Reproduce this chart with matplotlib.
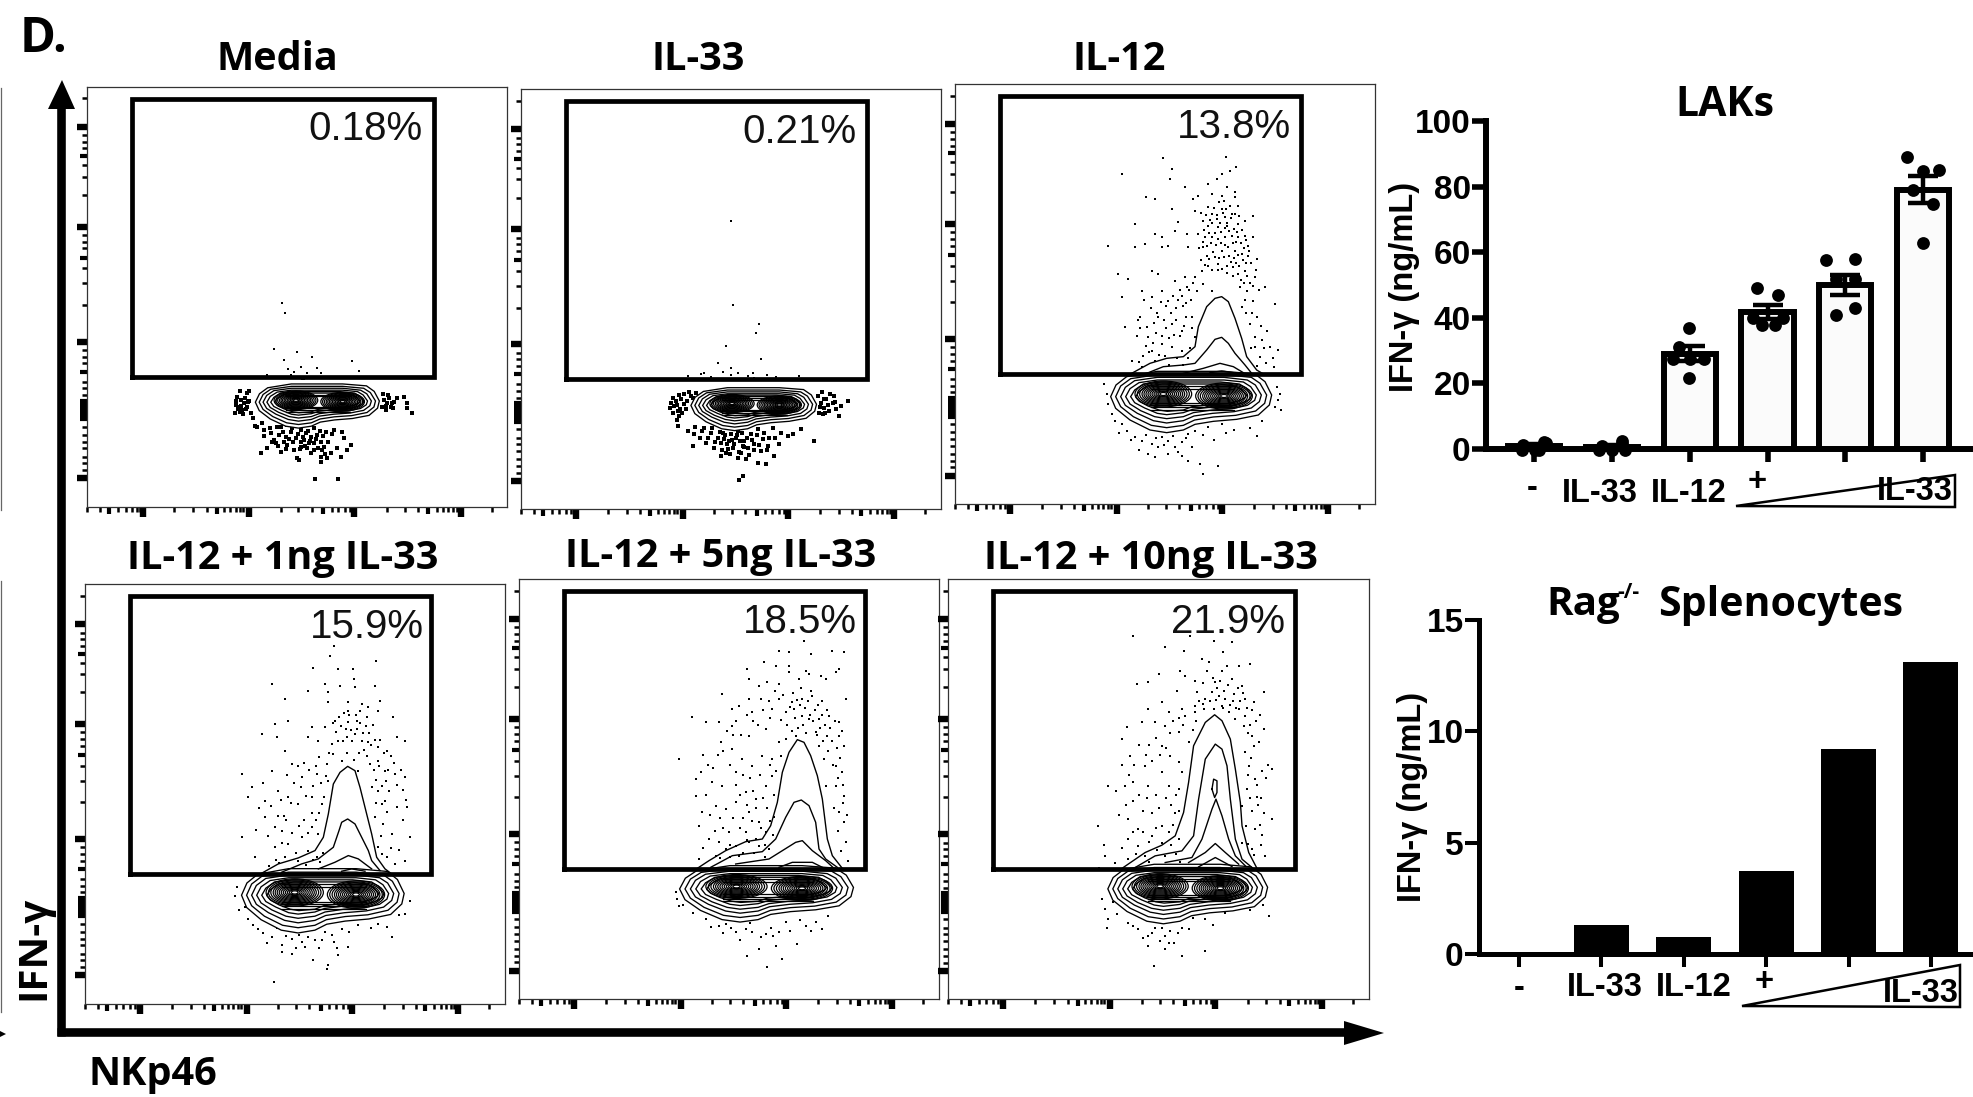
import matplotlib
matplotlib.use("Agg")
import matplotlib.pyplot as plt
from matplotlib.patches import Ellipse, Polygon

W, H = 1973, 1097
TITLE_FONT = "Open Sans"
BAR_FONT = "Liberation Sans"
FLOW_FONT = "Liberation Sans"

# flow panels, channel units are 0-1260 on both axes
panel_names = ["Media", "IL-33", "IL-12",
               "IL-12 + 1ng IL-33", "IL-12 + 5ng IL-33", "IL-12 + 10ng IL-33"]
panel_percent = ["0.18%", "0.21%", "13.8%", "15.9%", "18.5%", "21.9%"]
percent_x = [1005, 1005, 1008, 1017, 1013, 1010]
gate_x = [134, 1039]
gate_y = [390, 1224]

x_major = [166, 485, 800, 1120]
x_medium = [66, 388, 708, 1021]
x_minor = [0, 38, 93, 115, 135, 150, 158, 260, 318, 358, 410, 428, 445, 458, 468,
           580, 633, 673, 733, 753, 773, 788, 898, 953, 993, 1048, 1068, 1083, 1098, 1108, 1213]
y_major = [85, 495, 840, 1140]
y_medium = [262, 270, 278, 286, 294, 302, 310, 318, 405, 747, 1052]
y_minor = [110, 130, 150, 175, 195, 215, 240, 335, 355, 375, 430, 450, 470,
           605, 670, 715, 775, 795, 815, 935, 990, 1025, 1075, 1095, 1115, 1225]

# lower population: outlines relative to the blob centre, one panel's shape
ring_a = [(-192, 58), (-224, 33), (-240, -2), (-225, -37), (-182, -72), (-122, -102), (-72, -110), (-22, -102),
          (13, -85), (68, -76), (138, -70), (203, -57), (236, -27), (243, 3), (223, 43), (193, 66), (100, 74), (-100, 74)]
ring_b = [(-180, 52), (-210, 30), (-225, -2), (-210, -32), (-172, -62), (-118, -88), (-72, -95), (-22, -88),
          (12, -72), (68, -63), (135, -58), (195, -45), (222, -22), (228, 3), (208, 38), (182, 56), (100, 64), (-100, 64)]
ring_c = [(-168, 46), (-196, 26), (-210, -2), (-196, -28), (-160, -52), (-112, -74), (-72, -81), (-22, -74),
          (10, -60), (66, -52), (130, -47), (182, -36), (206, -17), (212, 3), (194, 33), (170, 48), (100, 56), (-100, 56)]
ring_d = [(-155, 40), (-182, 22), (-195, -2), (-182, -24), (-150, -44), (-108, -62), (-72, -68), (-22, -62),
          (8, -50), (64, -42), (125, -38), (170, -28), (192, -13), (197, 3), (180, 28), (158, 42), (100, 48), (-100, 48)]
ring_e = [(-142, 36), (-168, 18), (-180, -2), (-168, -20), (-138, -36), (-100, -52), (-72, -56), (-22, -50),
          (6, -40), (62, -33), (118, -30), (158, -20), (178, -9), (183, 3), (166, 24), (146, 36), (90, 42), (-90, 42)]
ring_f = [(-130, 30), (-154, 14), (-165, -2), (-154, -16), (-128, -30), (-95, -42), (-70, -46), (-22, -42),
          (4, -32), (60, -26), (112, -23), (146, -14), (164, -5), (168, 3), (152, 20), (134, 30), (85, 36), (-85, 36)]
blob_rings = [ring_a, ring_b, ring_c, ring_d, ring_e, ring_f]

lobe_centres = [(-82, 6), (100, 0)]
lobe_widths = [170, 156, 142, 128, 116, 104, 92, 80, 68, 56, 44, 32, 20]
lobe_heights = [78, 72, 66, 60, 54, 48, 42, 36, 30, 24, 18, 14, 9]
stripe_y = [-20, -27, -34, -41, 22, 30]

# blob centre and scale per panel
blob_cx = [689, 697, 707, 712, 741, 716]
blob_cy = [315, 313, 324, 328, 332, 333]
blob_sx = [0.77, 0.78, 1.0, 1.01, 1.08, 0.99]
blob_sy = [0.72, 0.70, 1.0, 1.05, 0.92, 0.97]

# contours above the blob
upper_il12 = [
    [(530, 392), (585, 422), (635, 437), (685, 442), (720, 472), (730, 532), (755, 592), (780, 617), (800, 622),
     (820, 607), (840, 557), (860, 497), (875, 442), (905, 402), (930, 387)],
    [(575, 392), (625, 412), (685, 417), (720, 422), (755, 462), (780, 494), (800, 500), (820, 482), (840, 452), (870, 417), (890, 392)],
    [(685, 392), (745, 407), (795, 422), (835, 412), (865, 394)],
    [(765, 394), (800, 399), (835, 394)],
]
upper_1ng = [
    [(530, 392), (580, 420), (640, 438), (690, 460), (715, 500), (730, 570), (745, 660), (765, 695), (788, 713),
     (810, 700), (825, 650), (840, 590), (860, 510), (875, 440), (900, 405), (920, 390)],
    [(590, 395), (650, 420), (700, 435), (745, 470), (762, 520), (770, 545), (788, 555), (810, 540), (830, 500), (850, 460), (860, 430), (885, 400)],
    [(700, 405), (750, 425), (790, 445), (820, 435), (860, 405)],
    [(770, 398), (800, 405), (840, 398)],
]
upper_5ng = [
    [(535, 392), (570, 415), (620, 445), (680, 472), (730, 480), (755, 520), (775, 590), (790, 680), (810, 740),
     (835, 778), (855, 770), (875, 730), (895, 670), (910, 600), (925, 480), (940, 430), (970, 392)],
    [(575, 395), (640, 430), (730, 442), (770, 480), (800, 545), (825, 590), (847, 597), (870, 580), (890, 530), (900, 450), (920, 420), (955, 395)],
    [(650, 405), (750, 420), (790, 445), (830, 470), (850, 475), (880, 445), (920, 415), (945, 392)],
    [(780, 395), (820, 410), (880, 410), (910, 395)],
]
upper_10ng = [
    [(520, 392), (590, 440), (640, 462), (680, 490), (705, 560), (720, 650), (735, 760), (770, 830), (798, 853),
     (820, 835), (845, 780), (860, 690), (875, 590), (880, 520), (900, 440), (925, 392)],
    [(560, 395), (620, 430), (700, 445), (735, 490), (750, 600), (770, 720), (800, 765), (820, 750), (835, 700), (845, 600), (860, 480), (880, 420), (910, 395)],
    [(650, 410), (730, 425), (760, 480), (790, 570), (802, 600), (820, 550), (840, 480), (860, 430), (890, 400)],
    [(790, 630), (795, 660), (805, 655), (805, 620), (798, 605), (790, 630)],
    [(720, 410), (770, 440), (800, 467), (830, 440), (870, 405)],
    [(750, 397), (800, 425), (850, 398)],
]
panel_upper = [[], [], upper_il12, upper_1ng, upper_5ng, upper_10ng]

# events outside the contours
dots_media = [(583, 610), (593, 580), (560, 472), (630, 465), (673, 450), (590, 440), (795, 437), (640, 420), (690, 415),
              (620, 405), (815, 407), (660, 400), (700, 400), (610, 395), (450, 330), (460, 320), (470, 310), (455, 300),
              (480, 300), (490, 280), (480, 340), (465, 290), (445, 305), (458, 285), (472, 325), (486, 318), (890, 320),
              (900, 310), (910, 300), (895, 290), (905, 325), (920, 315), (885, 300), (950, 330), (960, 310), (975, 280),
              (960, 295), (510, 240), (530, 230), (550, 220), (560, 200), (575, 215), (590, 195), (610, 225), (625, 205),
              (640, 195), (655, 220), (670, 210), (680, 190), (700, 195), (715, 225), (740, 230), (770, 205), (790, 185),
              (600, 185), (620, 170), (640, 180), (660, 175), (680, 170), (710, 180), (730, 160), (760, 150), (780, 170),
              (540, 175), (520, 160), (580, 165), (630, 145), (700, 150), (640, 230), (580, 240), (680, 235), (600, 245),
              (635, 140), (700, 135), (720, 145), (682, 83), (752, 83), (565, 190), (595, 210), (650, 200), (665, 190),
              (690, 215), (705, 170),
              (447, 318), (452, 292), (462, 302), (467, 278), (476, 293), (483, 313), (443, 282), (497, 267), (503, 243),
              (523, 252), (531, 213), (547, 236), (553, 193), (568, 238), (571, 182), (587, 223), (597, 173), (604, 203),
              (613, 237), (617, 193), (633, 218), (637, 173), (647, 208), (653, 183), (663, 228), (667, 198), (672, 162),
              (687, 203), (693, 177), (697, 226), (708, 213), (712, 158), (723, 193), (733, 217), (748, 176), (763, 223),
              (486, 348), (458, 347), (895, 303), (902, 335), (913, 312), (888, 337), (917, 297), (930, 325), (538, 395),
              (602, 414), (648, 385)]
dots_il33 = [(630, 865), (635, 612), (715, 555), (705, 530), (616, 490), (720, 450), (590, 440), (630, 425), (695, 410),
             (502, 400), (540, 405), (570, 398), (630, 402), (680, 400), (700, 395), (765, 398), (835, 400), (450, 320),
             (460, 310), (470, 295), (480, 330), (490, 315), (455, 290), (475, 280), (495, 300), (510, 340), (525, 350),
             (490, 345), (465, 325), (478, 300), (890, 340), (900, 320), (910, 305), (925, 295), (895, 290), (915, 330),
             (940, 340), (960, 310), (955, 280), (980, 325), (945, 300), (905, 285), (470, 250), (500, 235), (520, 225),
             (550, 245), (570, 230), (590, 215), (610, 210), (630, 225), (650, 235), (670, 205), (690, 225), (710, 240),
             (730, 230), (755, 245), (780, 230), (800, 220), (840, 240), (880, 205), (515, 190), (555, 200), (580, 185),
             (600, 200), (620, 180), (640, 195), (660, 170), (680, 185), (700, 195), (720, 175), (740, 190), (760, 160),
             (600, 160), (650, 155), (675, 150), (710, 140), (735, 135), (655, 88), (665, 100), (625, 205), (645, 215),
             (605, 230), (665, 190), (615, 170),
             (447, 303), (456, 333), (468, 312), (473, 342), (482, 288), (497, 325), (505, 352), (515, 333), (467, 267),
             (903, 352), (897, 307), (908, 332), (920, 313), (927, 345), (935, 318), (912, 290), (943, 322), (523, 247),
             (537, 215), (543, 236), (561, 213), (573, 245), (583, 203), (597, 233), (602, 177), (612, 223), (618, 197),
             (627, 167), (633, 208), (637, 183), (647, 222), (653, 172), (657, 205), (663, 228), (668, 187), (677, 213),
             (683, 164), (693, 207), (698, 178), (707, 222), (713, 192), (727, 212), (737, 178), (743, 213), (763, 213),
             (773, 197), (817, 225), (548, 410), (607, 412), (652, 408), (737, 404)]
dots_il12 = [(625, 1037), (812, 1040), (650, 1005), (842, 1010), (502, 990), (645, 975), (800, 990), (785, 975), (825, 1000),
             (690, 950), (760, 960), (815, 950), (840, 935), (572, 920), (600, 915), (730, 925), (715, 915), (770, 930),
             (800, 925), (840, 920), (650, 885), (720, 880), (760, 890), (800, 885), (850, 895), (895, 865), (770, 870),
             (785, 855), (810, 860), (830, 870), (745, 850), (760, 835), (790, 830), (815, 835), (850, 840), (870, 850),
             (541, 840), (670, 845), (600, 810), (620, 800), (660, 820), (695, 810), (730, 810), (750, 800), (770, 800),
             (790, 795), (810, 800), (830, 805), (850, 800), (870, 805), (895, 800), (458, 775), (540, 770), (570, 780),
             (620, 770), (640, 775), (700, 770), (745, 770), (755, 745), (775, 755), (800, 760), (820, 770), (840, 760),
             (860, 750), (880, 745), (905, 735), (490, 690), (520, 675), (590, 700), (610, 690), (660, 670), (690, 680),
             (720, 680), (740, 700), (760, 715), (790, 720), (815, 715), (835, 710), (850, 690), (870, 700), (900, 680),
             (930, 650), (500, 620), (560, 640), (590, 620), (620, 640), (640, 610), (680, 625), (695, 650), (725, 640),
             (745, 660), (770, 640), (855, 650), (875, 640), (895, 610), (960, 600), (510, 530), (555, 560), (580, 500),
             (610, 560), (650, 540), (680, 520), (710, 560), (720, 500), (860, 590), (885, 540), (900, 500), (935, 520),
             (545, 505), (590, 460), (620, 480), (650, 470), (680, 460), (900, 470), (915, 440), (945, 470), (530, 430),
             (600, 430), (560, 410), (455, 330), (460, 300), (470, 270), (480, 250), (500, 240), (515, 220), (540, 200),
             (560, 190), (590, 180), (610, 170), (620, 200), (640, 190), (660, 170), (680, 185), (700, 210), (720, 220),
             (760, 230), (800, 240), (860, 260), (920, 250), (960, 290), (975, 330), (965, 350), (600, 140), (640, 150),
             (700, 130), (735, 120), (745, 90), (788, 115), (580, 150), (680, 145),
             (738, 873), (747, 822), (753, 868), (761, 813), (764, 853), (772, 842), (777, 887), (781, 812), (786, 868),
             (791, 906), (794, 843), (797, 817), (803, 873), (806, 908), (809, 829), (813, 886), (817, 843), (822, 818),
             (826, 893), (829, 857), (833, 783), (836, 826), (841, 871), (844, 786), (847, 816), (853, 863), (857, 782),
             (862, 823), (866, 768), (874, 793), (878, 773), (883, 758), (731, 767), (737, 733), (743, 787), (749, 718),
             (756, 773), (763, 734), (767, 783), (772, 703), (779, 742), (784, 776), (788, 703), (793, 738), (797, 783),
             (801, 706), (806, 742), (811, 778), (817, 693), (823, 743), (828, 726), (833, 683), (838, 738), (843, 723),
             (848, 748), (853, 713), (858, 673), (863, 733), (868, 663), (873, 723), (877, 683), (885, 663), (889, 723),
             (893, 653), (903, 703), (912, 643), (702, 643), (708, 613), (713, 663), (692, 603), (683, 593), (676, 642),
             (668, 613), (662, 587), (653, 623), (647, 573), (634, 593), (627, 552), (618, 607), (606, 573), (598, 543),
             (587, 587), (577, 532), (568, 613), (556, 527), (548, 553), (693, 562), (687, 533), (674, 503), (663, 553),
             (657, 507), (643, 497), (632, 527), (622, 503), (603, 513), (593, 483), (583, 457), (573, 473), (563, 443),
             (553, 427), (613, 447), (631, 443), (643, 417), (666, 437), (684, 418), (706, 467), (699, 437), (712, 527),
             (905, 560), (917, 533), (892, 573), (927, 467), (934, 422), (957, 412), (888, 467), (907, 413), (922, 493),
             (953, 437), (968, 463), (874, 573), (869, 613), (493, 213), (527, 193), (553, 163), (573, 207), (603, 197),
             (627, 178), (653, 203), (669, 157), (693, 197), (711, 172), (743, 207), (778, 193), (812, 212), (838, 223),
             (884, 228), (905, 205), (473, 313), (447, 360), (968, 312), (978, 283)]
dots_1ng = [(748, 1075), (735, 1045), (685, 1010), (873, 1030), (758, 1005), (805, 1005), (808, 975), (560, 960), (720, 960),
            (765, 955), (810, 950), (870, 955), (730, 935), (670, 940), (600, 915), (730, 905), (790, 905), (830, 900),
            (885, 910), (790, 880), (825, 880), (850, 890), (570, 840), (610, 850), (680, 830), (720, 830), (750, 850),
            (790, 845), (815, 850), (845, 860), (880, 880), (925, 860), (935, 800), (960, 790), (530, 810), (575, 800),
            (670, 800), (700, 790), (740, 780), (760, 790), (785, 800), (810, 810), (830, 790), (850, 785), (880, 770),
            (905, 760), (470, 690), (500, 650), (560, 700), (600, 760), (620, 720), (650, 680), (695, 690), (725, 720),
            (745, 750), (770, 730), (820, 700), (855, 720), (880, 730), (900, 700), (930, 690), (960, 680), (490, 620),
            (540, 610), (580, 640), (610, 620), (640, 600), (680, 620), (710, 600), (730, 670), (860, 650), (880, 640),
            (900, 610), (935, 590), (470, 500), (540, 560), (590, 520), (610, 480), (650, 500), (680, 530), (700, 510),
            (870, 560), (895, 540), (920, 510), (975, 500), (510, 440), (570, 470), (600, 440), (640, 430), (670, 460),
            (695, 440), (880, 470), (905, 440), (930, 420), (960, 430), (450, 325), (480, 290), (490, 255), (520, 225),
            (560, 200), (590, 175), (620, 195), (650, 185), (690, 190), (720, 215), (740, 205), (770, 225), (820, 235),
            (880, 240), (920, 200), (960, 270), (975, 310), (590, 155), (620, 150), (660, 170), (685, 130), (730, 115),
            (760, 145), (790, 170), (725, 105), (567, 66),
            (743, 843), (752, 817), (761, 862), (768, 834), (773, 788), (777, 873), (783, 826), (787, 753), (792, 867),
            (797, 823), (802, 788), (806, 732), (812, 868), (816, 826), (822, 753), (826, 843), (833, 812), (838, 762),
            (843, 833), (847, 743), (853, 813), (858, 778), (863, 838), (867, 701), (871, 793), (874, 673), (883, 713),
            (886, 793), (891, 653), (896, 753), (903, 668), (908, 703), (913, 638), (918, 743), (927, 722), (937, 658),
            (947, 703), (955, 643), (964, 613), (732, 753), (723, 683), (717, 622), (708, 664), (703, 742), (692, 713),
            (684, 653), (673, 703), (664, 623), (656, 723), (647, 652), (638, 713), (628, 663), (618, 603), (606, 688),
            (597, 563), (588, 613), (579, 563), (569, 532), (557, 593), (548, 503), (534, 663), (522, 588), (513, 523),
            (701, 573), (692, 552), (681, 573), (668, 513), (657, 553), (643, 533), (632, 453), (622, 512), (602, 553),
            (592, 483), (583, 423), (572, 433), (553, 413), (663, 418), (684, 433), (706, 427), (713, 453), (891, 601),
            (905, 575), (887, 503), (917, 468), (942, 463), (953, 552), (966, 592), (874, 603), (891, 451), (503, 237),
            (533, 212), (547, 183), (577, 227), (604, 203), (632, 167), (641, 207), (668, 199), (703, 167), (712, 191),
            (748, 186), (757, 167), (793, 215), (838, 253), (858, 228), (905, 230), (943, 265), (463, 283), (457, 350)]
dots_5ng = [(810, 1040), (780, 1045), (855, 1075), (940, 1045), (975, 1040), (875, 1035), (735, 1010), (685, 990), (810, 1000),
            (770, 1000), (860, 985), (905, 970), (950, 980), (960, 990), (810, 980), (745, 950), (690, 960), (720, 940),
            (780, 945), (840, 960), (870, 975), (920, 960), (610, 915), (690, 900), (640, 870), (725, 900), (750, 895),
            (780, 900), (820, 890), (850, 900), (880, 910), (910, 895), (980, 900), (660, 880), (700, 860), (760, 870),
            (800, 860), (825, 870), (850, 850), (870, 840), (900, 840), (930, 850), (960, 830), (520, 845), (560, 830),
            (600, 830), (640, 820), (690, 790), (740, 810), (780, 770), (800, 780), (830, 790), (890, 800), (925, 790),
            (960, 790), (975, 760), (605, 770), (640, 750), (670, 720), (700, 700), (730, 730), (760, 720), (785, 730),
            (900, 760), (915, 720), (950, 700), (970, 680), (480, 720), (545, 680), (530, 660), (580, 650), (610, 640),
            (650, 680), (680, 620), (710, 600), (740, 640), (760, 670), (920, 640), (950, 640), (975, 610), (530, 610),
            (550, 560), (590, 580), (620, 570), (650, 590), (690, 560), (720, 530), (960, 560), (975, 530), (540, 520),
            (570, 480), (600, 470), (630, 500), (650, 460), (680, 500), (710, 480), (740, 500), (980, 470), (540, 420),
            (590, 430), (620, 450), (660, 430), (690, 470), (720, 460), (750, 450), (470, 320), (475, 300), (480, 280),
            (560, 240), (600, 220), (620, 225), (650, 200), (680, 210), (700, 200), (740, 195), (780, 200), (800, 230),
            (860, 220), (890, 230), (910, 210), (770, 160), (720, 150), (685, 130), (790, 120), (745, 95), (835, 165),
            (803, 823), (812, 877), (818, 803), (823, 918), (827, 843), (834, 898), (838, 813), (844, 883), (847, 933),
            (852, 823), (858, 873), (862, 798), (867, 893), (873, 853), (877, 923), (883, 833), (887, 868), (893, 793),
            (897, 883), (903, 813), (908, 853), (913, 773), (918, 823), (923, 868), (928, 743), (934, 813), (938, 773),
            (943, 703), (947, 833), (953, 753), (958, 663), (964, 723), (969, 803), (972, 643), (786, 838), (793, 913),
            (768, 923), (753, 843), (733, 868), (717, 823), (701, 833), (683, 853), (667, 793), (652, 833), (643, 793),
            (623, 803), (613, 743), (597, 733), (583, 693), (567, 703), (553, 733), (633, 703), (652, 643), (663, 613),
            (672, 673), (683, 583), (693, 663), (703, 623), (712, 573), (722, 673), (733, 603), (744, 573), (752, 703),
            (764, 613), (772, 683), (753, 533), (766, 547), (738, 463), (727, 513), (698, 533), (684, 477), (672, 543),
            (663, 513), (643, 543), (632, 463), (613, 513), (602, 543), (587, 503), (573, 553), (562, 613), (553, 453),
            (603, 423), (633, 427), (672, 437), (706, 437), (737, 427), (763, 493), (983, 553), (957, 503), (966, 443),
            (971, 587), (988, 413), (944, 573), (523, 258), (577, 215), (612, 197), (637, 213), (663, 178), (693, 229),
            (727, 187), (757, 213), (763, 188), (812, 203), (843, 238), (875, 203), (927, 248), (493, 283)]
dots_10ng = [(553, 1088), (650, 1055), (705, 1045), (725, 1090), (795, 1075), (822, 1040), (850, 1070), (905, 1005), (760, 1020),
             (780, 1010), (835, 1000), (870, 1000), (820, 985), (695, 985), (630, 975), (565, 945), (600, 950), (710, 970),
             (740, 955), (800, 950), (850, 960), (880, 940), (945, 920), (685, 925), (745, 920), (770, 900), (790, 920),
             (810, 910), (830, 900), (855, 915), (890, 900), (915, 890), (640, 890), (600, 870), (580, 830), (535, 815),
             (520, 780), (660, 860), (700, 870), (740, 880), (765, 870), (795, 870), (820, 880), (840, 860), (870, 870),
             (890, 850), (945, 810), (620, 830), (650, 820), (690, 800), (720, 770), (710, 850), (740, 860), (860, 840),
             (885, 820), (910, 790), (930, 770), (545, 730), (590, 700), (640, 760), (665, 730), (690, 710), (700, 680),
             (890, 740), (900, 700), (920, 660), (970, 690), (480, 640), (530, 640), (555, 650), (600, 640), (640, 680),
             (660, 640), (690, 630), (895, 630), (925, 605), (945, 560), (970, 540), (450, 520), (540, 540), (570, 510),
             (610, 560), (640, 520), (680, 560), (920, 510), (880, 580), (540, 480), (570, 460), (610, 490), (640, 470),
             (650, 430), (690, 480), (880, 470), (910, 450), (950, 430), (470, 430), (500, 410), (540, 420), (590, 430),
             (460, 300), (470, 270), (480, 240), (540, 230), (570, 210), (600, 190), (620, 215), (650, 190), (665, 205),
             (700, 215), (720, 210), (770, 240), (830, 260), (960, 250), (600, 160), (650, 150), (700, 130), (770, 145),
             (617, 100), (660, 170),
             (752, 893), (763, 948), (775, 983), (784, 893), (793, 963), (801, 897), (806, 933), (814, 953), (822, 873),
             (826, 923), (837, 943), (843, 883), (852, 893), (862, 873), (868, 933), (873, 893), (883, 918), (895, 873),
             (903, 823), (911, 868), (923, 833), (933, 853), (897, 797), (907, 723), (917, 758), (926, 643), (936, 603),
             (941, 683), (953, 663), (957, 703), (898, 673), (903, 603), (911, 563), (927, 583), (933, 523), (941, 493),
             (762, 884), (742, 833), (733, 808), (703, 823), (692, 843), (674, 833), (663, 797), (652, 753), (633, 733),
             (622, 783), (612, 713), (602, 763), (592, 733), (573, 763), (556, 703), (543, 673), (522, 703), (503, 623),
             (513, 553), (533, 583), (553, 593), (572, 613), (583, 563), (597, 603), (623, 613), (632, 573), (653, 603),
             (668, 583), (682, 613), (673, 523), (692, 563), (662, 503), (622, 513), (602, 473), (584, 503), (553, 503),
             (522, 453), (563, 437), (603, 413), (627, 447), (668, 463), (683, 437), (693, 412), (892, 520), (897, 467),
             (917, 433), (937, 463), (467, 463), (453, 393), (505, 257), (553, 219), (583, 183), (611, 199), (634, 174),
             (641, 213), (677, 169), (687, 198), (733, 243), (793, 223), (847, 273), (903, 268), (942, 283), (477, 213),
             (493, 293)]
panel_dots = [dots_media, dots_il33, dots_il12, dots_1ng, dots_5ng, dots_10ng]
dot_sizes = [5.5, 5.5, 3.4, 3.0, 3.0, 3.0]

# LAKs bars
lak_values = [1.0, 0.7, 29, 41.8, 50, 79]
lak_errors = [0.4, 0.4, 2.3, 2.2, 3.0, 4.1]
lak_pts_x = [[-0.14, 0.13, -0.16, 0.06, 0.15, 0.01],
             [-0.13, 0.13, -0.16, 0.0, 0.17, 0.13],
             [-0.01, -0.14, -0.22, 0.0, 0.19, -0.01],
             [-0.13, 0.13, -0.19, -0.07, 0.1, 0.2],
             [-0.25, 0.12, -0.12, 0.12, -0.12, 0.12],
             [-0.21, 0.0, 0.2, -0.13, 0.12, 0.0]]
lak_pts_y = [[1.3, 2.0, -0.2, -0.2, 1.8, -0.2],
             [0.8, 2.3, -0.2, -0.3, -0.2, 1.6],
             [37, 31.2, 27.3, 27.5, 27.3, 21.6],
             [49.2, 47, 39.8, 37.8, 37.8, 39.8],
             [57.7, 57.9, 51.9, 51.9, 40.8, 43.1],
             [88.9, 84.8, 85, 79, 74.7, 62.9]]
lak_yticks = [0, 20, 40, 60, 80, 100]

# Rag-/- bars
rag_values = [0, 1.3, 0.78, 3.73, 9.2, 13.1]
rag_yticks = [0, 5, 10, 15]


def px_axes(fig, left, top, right, bottom):
    return fig.add_axes([left / W, 1 - bottom / H, (right - left) / W, (bottom - top) / H])


def draw_flow(ax, idx):
    ax.set_xlim(0, 1260)
    ax.set_ylim(0, 1260)
    for sp in ax.spines.values():
        sp.set_linewidth(0.9)
        sp.set_color("#333333")

    ax.set_xticks(x_major)
    ax.set_xticks(sorted(x_medium + x_minor), minor=True)
    ax.set_yticks(y_major)
    ax.set_yticks(sorted(y_medium + y_minor), minor=True)
    ax.set_xticklabels([])
    ax.set_yticklabels([])
    ax.tick_params(which="major", length=7.5, width=4.6, color="black")
    ax.tick_params(which="minor", length=3.4, width=1.8, color="black")
    for ticks, medium, pos in [(ax.xaxis.get_minor_ticks(), x_medium, sorted(x_medium + x_minor)),
                               (ax.yaxis.get_minor_ticks(), y_medium, sorted(y_medium + y_minor))]:
        for t, p in zip(ticks, pos):
            if p in medium:
                t.tick1line.set_markersize(5.2)
                t.tick1line.set_markeredgewidth(3.0)

    # stray events above the gate line print finer than the dense clusters
    dots = panel_dots[idx]
    low = [d for d in dots if d[1] <= 390]
    high = [d for d in dots if d[1] > 390]
    ax.scatter([d[0] for d in low], [d[1] for d in low], s=dot_sizes[idx], marker="s", color="black", lw=0, zorder=2)
    ax.scatter([d[0] for d in high], [d[1] for d in high], s=min(dot_sizes[idx], 3.2) if idx > 1 else 1.6,
               marker="s", color="black", lw=0, zorder=2)

    cx, cy, sx, sy = blob_cx[idx], blob_cy[idx], blob_sx[idx], blob_sy[idx]
    for ring in blob_rings:
        pts = [(cx + p[0] * sx, cy + p[1] * sy) for p in ring]
        ax.add_patch(Polygon(pts, closed=True, fc="white", ec="black", lw=0.95, zorder=3))
    for sy_ in stripe_y:
        ax.plot([cx - 120 * sx, cx + 130 * sx], [cy + sy_ * sy, cy + sy_ * sy], color="black", lw=0.9, zorder=3)
    for lx, ly in lobe_centres:
        for i, (lw_, lh) in enumerate(zip(lobe_widths, lobe_heights)):
            last = i == len(lobe_widths) - 1
            ax.add_patch(Ellipse((cx + lx * sx, cy + ly * sy), lw_ * sx, lh * sy,
                                 fc="white" if last else "none", ec="black", lw=0.9, zorder=3))

    for c in panel_upper[idx]:
        ax.plot([p[0] for p in c], [p[1] for p in c], color="black", lw=1.0, zorder=3)

    ax.plot([gate_x[0], gate_x[1], gate_x[1], gate_x[0], gate_x[0]],
            [gate_y[0], gate_y[0], gate_y[1], gate_y[1], gate_y[0]],
            color="black", lw=3.4, solid_joinstyle="miter", zorder=4)
    ax.text(percent_x[idx], 1132, panel_percent[idx], ha="right", va="center", fontsize=29,
            family=FLOW_FONT, color="#111111", zorder=5)


def style_bar_axes(ax, yticks, spine_w, tick_w):
    for name in ["top", "right"]:
        ax.spines[name].set_visible(False)
    ax.spines["left"].set_linewidth(spine_w)
    ax.spines["bottom"].set_linewidth(spine_w)
    ax.set_yticks(yticks)
    ax.set_xticks(range(6))
    ax.set_xticklabels([])
    ax.tick_params(axis="y", length=10, width=tick_w, pad=1)
    ax.tick_params(axis="x", length=9, width=tick_w)
    for lab in ax.get_yticklabels():
        lab.set_fontsize(24)
        lab.set_fontweight("bold")
        lab.set_family(BAR_FONT)


def main():
    fig = plt.figure(figsize=(W / 100, H / 100), dpi=100)

    panel_boxes = [(87.3, 86.7, 507.3, 506.7), (521, 89.3, 941, 509.3), (955, 84, 1375, 504),
                   (85, 584.3, 505, 1003.7), (519, 579, 939, 999), (948, 579, 1369, 999.3)]
    for i, box in enumerate(panel_boxes):
        draw_flow(px_axes(fig, *box), i)

    # LAKs
    ax = px_axes(fig, 1486, 121, 1973, 449)
    ax.set_xlim(-0.617, 5.64)
    ax.set_ylim(0, 100)
    ax.bar(range(6), lak_values, width=0.67, color="#fbfbfb", edgecolor="black", linewidth=4.3, zorder=2)
    for i in range(6):
        ax.scatter([i + dx for dx in lak_pts_x[i]], lak_pts_y[i], s=85, color="black", lw=0, zorder=3, clip_on=False)
    ax.errorbar(range(6), lak_values, yerr=lak_errors, fmt="none", ecolor="black", elinewidth=3.2,
                capsize=11, capthick=3.2, zorder=4, clip_on=False)
    style_bar_axes(ax, lak_yticks, 4.3, 4.0)

    # Rag
    ax = px_axes(fig, 1479, 620, 1973, 954)
    ax.set_xlim(-0.485, 5.51)
    ax.set_ylim(0, 15)
    ax.bar(range(6), rag_values, width=0.667, color="black", zorder=2)
    style_bar_axes(ax, rag_yticks, 3.6, 2.9)

    # text and arrows, in image pixels
    ov = fig.add_axes([0, 0, 1, 1], facecolor="none")
    ov.set_xlim(0, W)
    ov.set_ylim(H, 0)
    ov.axis("off")

    ov.plot([61, 61], [1036, 105], color="black", lw=6.2, solid_capstyle="butt")
    ov.plot([57, 1348], [1032, 1032], color="black", lw=6.2, solid_capstyle="butt")
    ov.add_patch(Polygon([(62, 80), (48, 109), (75, 109)], fc="black", ec="none"))
    ov.add_patch(Polygon([(1384, 1033), (1344, 1021), (1344, 1045)], fc="black", ec="none"))
    ov.plot([1, 1], [88, 510], color="#666666", lw=0.9)
    ov.plot([1, 1], [581, 1012], color="#666666", lw=0.9)
    ov.add_patch(Polygon([(6, 1034), (0, 1031), (0, 1037)], fc="black", ec="none"))

    def title(x, y, s, size=28.5, ha="center"):
        ov.text(x, y, s, ha=ha, va="center", fontsize=size, fontweight="bold", family=TITLE_FONT, color="black")

    title(20, 40, "D.", 35, "left")
    title(277, 59, panel_names[0])
    title(698, 59, panel_names[1])
    title(1119, 59, panel_names[2])
    title(283, 559, panel_names[3])
    title(721, 556, panel_names[4])
    title(1151, 559, panel_names[5])
    title(88, 1075, "NKp46", 28.5, "left")
    ov.text(34, 948, "IFN-γ", rotation=90, ha="center", va="center", fontsize=29,
            fontweight="bold", family=TITLE_FONT, color="black")

    title(1725, 105, "LAKs", 29.5)
    title(1546, 605, "Rag", 29, "left")
    title(1617, 592, "-/-", 15, "left")
    title(1658, 605, "Splenocytes", 29.5, "left")

    def label(x, y, s, size=23.5, rot=0):
        ov.text(x, y, s, ha="center", va="center", fontsize=size, fontweight="bold", family=BAR_FONT,
                rotation=rot, color="black")

    label(1405, 287, "IFN-γ (ng/mL)", 23.5, 90)
    label(1412, 797, "IFN-γ (ng/mL)", 23.5, 90)
    label(1532, 488, "-")
    label(1600, 493, "IL-33")
    label(1689, 493, "IL-12")
    label(1757, 483, "+")
    ov.add_patch(Polygon([(1736, 506), (1955, 475), (1955, 507)], fill=False, ec="black", lw=1.8))
    label(1915, 491, "IL-33")
    label(1519, 988, "-")
    label(1605, 987, "IL-33")
    label(1694, 987, "IL-12")
    label(1764, 983, "+")
    ov.add_patch(Polygon([(1742, 1006), (1960, 965), (1960, 1007)], fill=False, ec="black", lw=1.8))
    label(1921, 993, "IL-33")

    fig.savefig("out.png", dpi=100)


if __name__ == "__main__":
    main()
